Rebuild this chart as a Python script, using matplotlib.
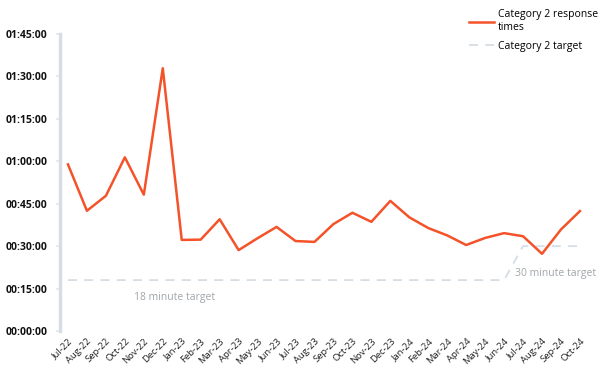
import matplotlib.pyplot as plt
import numpy as np

plt.rcParams['font.family'] = ['Open Sans', 'DejaVu Sans']

months = ['Jul-22', 'Aug-22', 'Sep-22', 'Oct-22', 'Nov-22', 'Dec-22',
          'Jan-23', 'Feb-23', 'Mar-23', 'Apr-23', 'May-23', 'Jun-23',
          'Jul-23', 'Aug-23', 'Sep-23', 'Oct-23', 'Nov-23', 'Dec-23',
          'Jan-24', 'Feb-24', 'Mar-24', 'Apr-24', 'May-24', 'Jun-24',
          'Jul-24', 'Aug-24', 'Sep-24', 'Oct-24']
# response times in minutes
response = [58.9, 42.5, 47.8, 61.4, 48.2, 92.9,
            32.2, 32.3, 39.5, 28.6, 32.8, 36.8,
            31.8, 31.5, 37.8, 41.8, 38.6, 46.0,
            40.2, 36.4, 33.8, 30.4, 32.9, 34.6,
            33.5, 27.3, 35.9, 42.4]
target = [18] * 24 + [30] * 4
yticks_min = [0, 15, 30, 45, 60, 75, 90, 105]

def fmt(m):
    return '%02d:%02d:00' % (m // 60, m % 60)

fig = plt.figure(figsize=(6.07, 3.78), dpi=100)
ax = fig.add_axes([60/607, 47/378, 530/607, 297/378])

x = np.arange(len(months))
ax.plot(x, target, color='#d5dee5', lw=1.3, dashes=(5, 4), label='Category 2 target', zorder=2)
ax.plot(x, response, color='#f4532a', lw=1.8, label='Category 2 response\ntimes', zorder=3)

ax.set_xlim(-0.42, 27.53)
ax.set_ylim(0, 105)
ax.set_yticks(yticks_min)
ax.set_yticklabels([fmt(m) for m in yticks_min], fontweight='bold', fontsize=7.5, color='#111111')
ax.set_xticks(x)
ax.set_xticklabels(months, rotation=45, ha='right', rotation_mode='anchor', fontsize=6.8, color='#222222')

for s in ['top', 'right', 'bottom']:
    ax.spines[s].set_visible(False)
ax.spines['left'].set_color('#d5dee5')
ax.spines['left'].set_linewidth(2.5)
ax.tick_params(axis='y', length=3, width=1.2, color='#e3e8ec', pad=6)
ax.tick_params(axis='x', length=0, pad=4)

ax.text(3.5, 13.8, '18 minute target', color='#a0a6aa', fontsize=7.5, va='top')
ax.text(23.6, 20.3, '30 minute target', color='#a0a6aa', fontsize=7.5, va='center')

h, l = ax.get_legend_handles_labels()
fig.legend(h[::-1], l[::-1], loc='upper right', bbox_to_anchor=(1.0, 1.0), frameon=False,
           fontsize=7.5, handlelength=2.4, handletextpad=0.3, labelspacing=0.75)

plt.savefig('out.png', dpi=100)
